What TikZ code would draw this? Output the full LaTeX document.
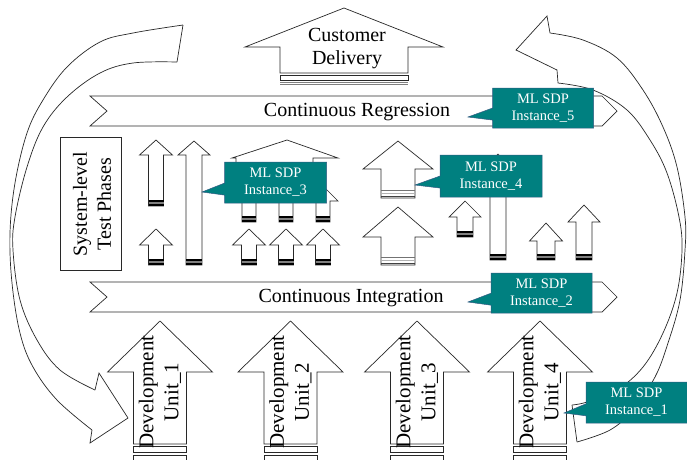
\documentclass[tikz,border=0pt]{standalone}
\usepackage{fontspec}
\setmainfont{Liberation Serif}
\usetikzlibrary{shapes.callouts}
\definecolor{tealbox}{RGB}{0,128,128}
\definecolor{tealborder}{RGB}{50,90,130}
\definecolor{lc}{RGB}{40,40,40}
\newcommand{\barrow}[6]{%
  \draw[arr] (#1,#2) -- ({#1+#4},#3) -- ({#1+#5},#3) -- ({#1+#5},#6) -- ({#1-#5},#6) -- ({#1-#5},#3) -- ({#1-#4},#3) -- cycle;}
\newcommand{\bstripe}[3]{%
  \draw[line width=1.4pt,black] ({#1-#2},{#3-1}) -- ({#1+#2},{#3-1});
  \draw[line width=1.1pt,gray] ({#1-#2},{#3-3}) -- ({#1+#2},{#3-3});
  \draw[line width=1.4pt,black] ({#1-#2},{#3-5}) -- ({#1+#2},{#3-5});}
\newcommand{\gstripe}[3]{%
  \draw[line width=1.8pt,black!75] ({#1-#2},{#3-1.5}) -- ({#1+#2},{#3-1.5});
  \draw[line width=1.5pt,gray!60] ({#1-#2},{#3-4.5}) -- ({#1+#2},{#3-4.5});
  \draw[line width=1.8pt,black!55] ({#1-#2},{#3-7.5}) -- ({#1+#2},{#3-7.5});}
\newcommand{\ubars}[3]{%
  \draw[arr] ({#1-#2},{#3+2}) rectangle ({#1+#2},{#3+8});
  \draw[arr] ({#1-#2},{#3+11}) rectangle ({#1+#2},{#3+18});}
\begin{document}
\begin{tikzpicture}[x=1pt,y=-1pt,
  arr/.style={draw=lc,line width=0.7pt,fill=white,line join=miter},
  curve/.style={draw=lc,line width=0.7pt},
  mlsdp/.style={rectangle callout,fill=tealbox,draw=tealborder,line width=0.5pt,
    text=white,font=\fontsize{14.5}{17}\selectfont,align=center,
    minimum width=101pt,minimum height=40pt,inner sep=0pt,callout pointer width=12pt},
  bandtext/.style={font=\fontsize{20}{23}\selectfont,inner sep=0pt},
  unittext/.style={font=\fontsize{21}{25}\selectfont,align=center,rotate=90,inner sep=0pt},
]
\useasboundingbox (0,0) rectangle (687,459);
\fill[white] (0,0) rectangle (687,459);

% left curved arrow
\draw[curve] plot[smooth,tension=0.6] coordinates {(183,25) (133,33) (100,42) (67,67) (43,100) (27,133) (15,183) (10,233) (12,283) (20,333) (33,367) (57,400) (92,430)};
\draw[curve] plot[smooth,tension=0.6] coordinates {(177,62) (133,63) (100,73) (67,97) (43,127) (27,167) (15,217) (13,250) (20,300) (37,340) (60,370) (95,390)};
\draw[curve] (183,25) -- (177,62);
\draw[curve,line join=miter] (95,390) -- (99,373) -- (128,418) -- (90,443) -- (92,430);

% right curved arrow
\draw[curve] plot[smooth,tension=0.6] coordinates {(550,33) (583,40) (617,58) (643,90) (663,127) (677,167) (685,217) (685,250) (680,300) (668,343) (655,377) (633,410) (610,430) (577,442)};
\draw[curve] plot[smooth,tension=0.6] coordinates {(558,83) (593,90) (627,110) (650,140) (667,173) (679,217) (682,250) (677,293) (663,333) (643,367) (617,390) (587,402) (572,405)};
\draw[curve] (572,405) -- (577,442);
\draw[curve,line join=miter] (550,33) -- (547,16) -- (516,50) -- (557,70) -- (558,83);

% Customer delivery
\barrow{344}{8}{47}{99}{64}{73}
\draw[arr] (280,75) rectangle (408,80);
\draw[gray,line width=1pt] (280,82.5) -- (408,82.5);
\draw[gray,line width=1pt] (280,84.8) -- (408,84.8);
\node[bandtext,align=center,font=\fontsize{20}{23}\selectfont] (cust) at (347,49) {Customer\\Delivery};

% bands
\draw[arr] (90,96) -- (602,96) -- (617,111) -- (602,126) -- (90,126) -- (107,111) -- cycle;
\node[bandtext] (creg) at (357,112) {Continuous Regression};
\draw[arr] (90,282) -- (602,282) -- (617,297) -- (602,312) -- (90,312) -- (107,297) -- cycle;
\node[bandtext] (cint) at (351,298) {Continuous Integration};

% system-level box
\draw[arr] (60,137) rectangle (121,270);
\node[font=\fontsize{20}{24}\selectfont,align=center,rotate=90,inner sep=0pt] (sys) at (92,204) {System-level\\Test Phases};

% middle arrows, left group
\barrow{156}{140}{155}{16.5}{7.5}{206}\bstripe{156}{7.5}{206}
\barrow{194}{141}{155}{16}{8}{265}\bstripe{194}{8}{265}
\barrow{156}{229}{245}{16.5}{7.5}{265}\bstripe{156}{7.5}{265}

% wide arrow with small ones
\draw[arr] (287,140) -- (338,158) -- (313,158) -- (313,190) -- (236,190) -- (236,158) -- (232,158) -- cycle;
\foreach \cx in {249,286,323}{
  \barrow{\cx}{186}{201}{15}{7}{222}\bstripe{\cx}{7}{222}
  \barrow{\cx}{229}{245}{16.5}{7.5}{265}\bstripe{\cx}{7.5}{265}
}

% right group
\barrow{398}{141}{169}{35}{17}{198}\gstripe{398}{17}{198}
\barrow{398}{207}{237}{35}{17}{265}\gstripe{398}{17}{265}
\barrow{465}{201}{217}{16}{8}{237}\bstripe{465}{8}{237}
\barrow{498}{154}{170}{16}{8}{260}\bstripe{498}{8}{260}
\barrow{546}{223}{241}{16.5}{9}{260}\bstripe{546}{9}{260}
\barrow{584}{205}{222}{16}{8}{260}\bstripe{584}{8}{260}

% development units
\foreach \cx/\n in {160/1,290.5/2,417/3,540/4}{
  \barrow{\cx}{321}{372}{52.5}{26.5}{444}
  \ubars{\cx}{26.5}{444}
  \node[unittext] (unit\n) at (\cx,392) {Development\\Unit\_\n};
}

% callouts
\node[mlsdp,callout absolute pointer={(468,117)}] (c5) at (543,108) {ML SDP\\Instance\_5};
\node[mlsdp,callout absolute pointer={(468,302)}] (c2) at (541.5,293) {ML SDP\\Instance\_2};
\node[mlsdp,callout absolute pointer={(202,192)},minimum width=102pt,minimum height=41pt] (c3) at (275.5,182.5) {ML SDP\\Instance\_3};
\node[mlsdp,callout absolute pointer={(415,185)},minimum width=102pt,minimum height=42pt] (c4) at (491,176) {ML SDP\\Instance\_4};
\node[mlsdp,callout absolute pointer={(564,413)},minimum height=41pt] (c1) at (636.5,402.5) {ML SDP\\Instance\_1};
\end{tikzpicture}
\end{document}
